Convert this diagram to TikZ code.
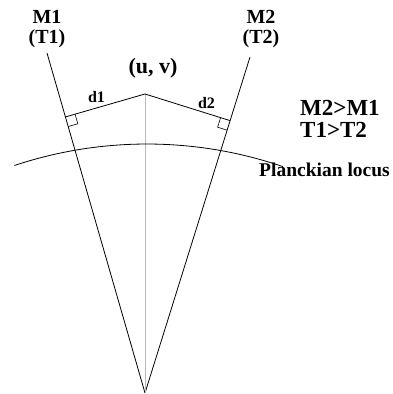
\documentclass[tikz,border=0pt]{standalone}
\usepackage{fontspec}
\setmainfont{Liberation Serif}
\usetikzlibrary{calc}
\tikzstyle{lbl}=[font=\fontsize{20}{20.5}\selectfont\bfseries, inner sep=0pt]
\tikzstyle{big}=[font=\fontsize{23}{22.5}\selectfont\bfseries, inner sep=0pt]
\tikzstyle{small}=[font=\fontsize{16}{18}\selectfont\bfseries, inner sep=0pt]
\tikzstyle{ray}=[draw, line width=0.8pt]

\begin{document}
\begin{tikzpicture}[x=1pt, y=1pt]
    \useasboundingbox (0,0) rectangle (393,394);

    \foreach \x/\y/\name in {145/1/apex, 145/300/uv, 47/341/m1top, 250/337/m2top, 14.4/228.5/locl}
        \coordinate (\name) at (\x,\y);

    % rays out of the apex
    \foreach \dest in {m1top, m2top}
        \path[ray] (apex) -- (\dest);
    \path[ray, gray!55] (apex) -- (uv);

    % distances d1, d2 with right angle marks
    \coordinate (f1) at ($(apex)!(uv)!(m1top)$);
    \coordinate (f2) at ($(apex)!(uv)!(m2top)$);
    \foreach \foot in {f1, f2} {
        \path[ray] (uv) -- (\foot);
        \coordinate (a) at ($(\foot)!10pt!(apex)$);
        \coordinate (b) at ($(\foot)!10pt!(uv)$);
        \path[ray, line width=0.6pt] (a) -- ($(a)+(b)-(\foot)$) -- (b);
    }

    % planckian locus
    \path[ray] (locl) arc[start angle=108.4, end angle=71.1, radius=420];

    \foreach \x/\y/\name/\txt in {47/365/m1/{M1\\(T1)}, 261/365/m2/{M2\\(T2)}}
        \node[lbl, align=center] (\name) at (\x,\y) {\txt};
    \node[lbl, font=\fontsize{22}{24}\selectfont\bfseries] (uvlbl) at (153,326) {(u, v)};

    \node[small] (d1) at (96.5,297) {d1};
    \node[small] (d2) at (206.5,291) {d2};
    \node[big, align=left, anchor=west] (rel) at (300,275) {M2>M1\\T1>T2};
    \node[lbl, font=\fontsize{19.5}{22}\selectfont\bfseries, anchor=west] (locus) at (259,224) {Planckian locus};
\end{tikzpicture}
\end{document}
